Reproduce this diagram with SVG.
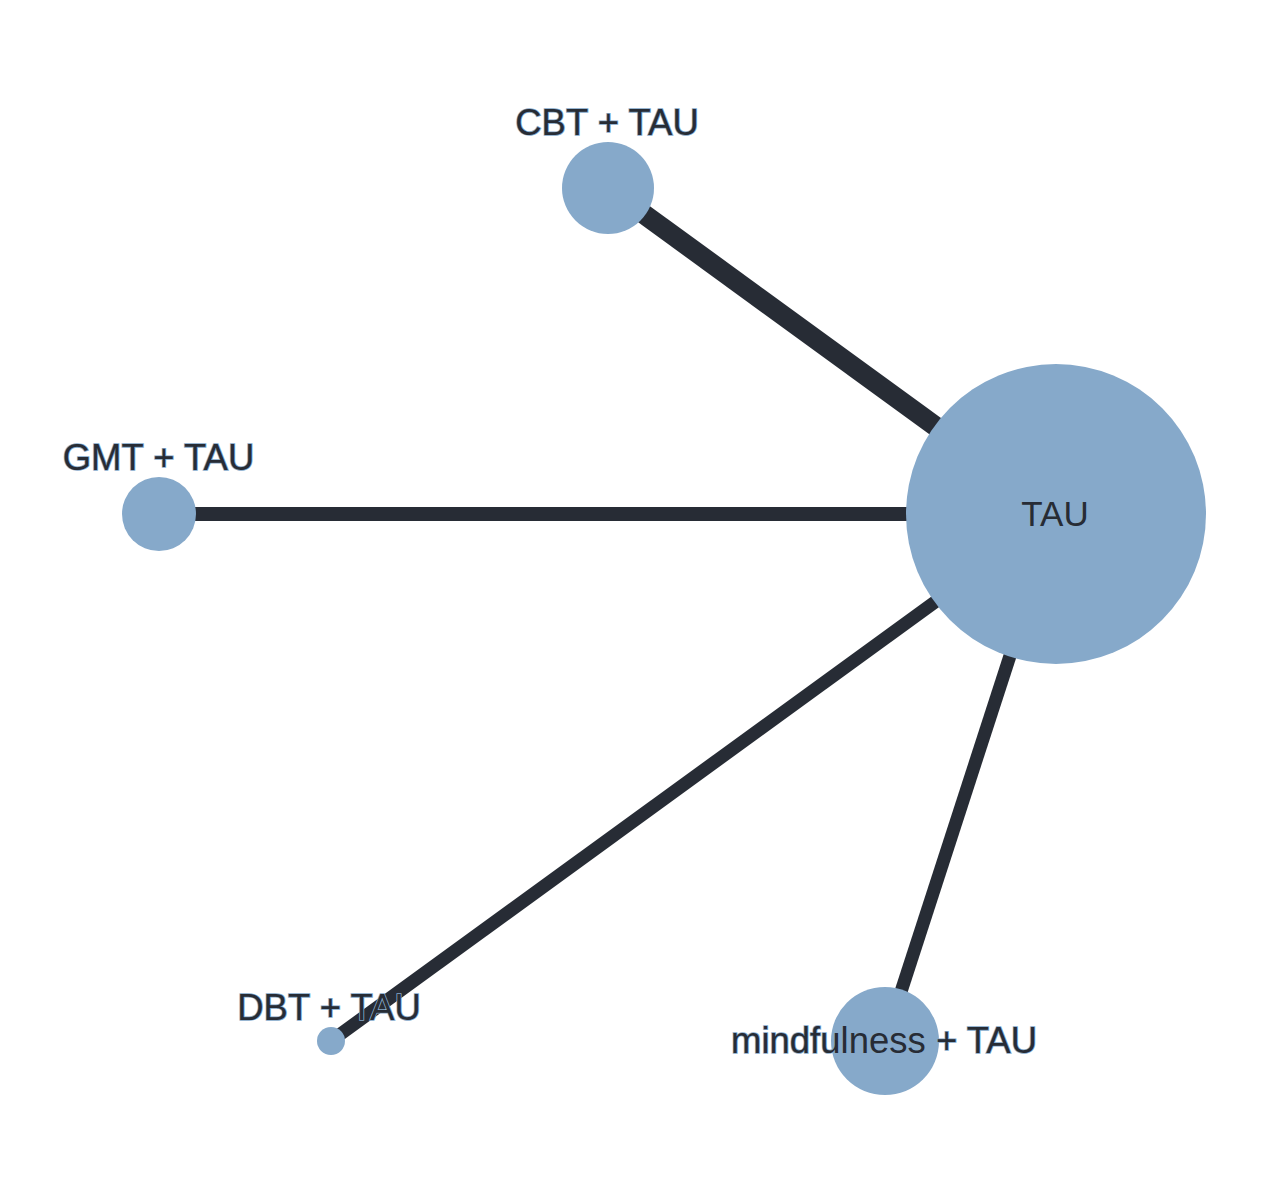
<svg xmlns="http://www.w3.org/2000/svg" width="1269" height="1200" viewBox="0 0 1269 1200">
<style>
.edge{stroke:#272c35;stroke-linecap:butt;fill:none}
.node{fill:#86a9ca}
.lbl{font-family:"Liberation Sans",Arial,Helvetica,sans-serif;font-size:36.5px;fill:#272c35;stroke:#86a9ca;stroke-width:1.6;paint-order:stroke;text-anchor:middle}
.in{stroke:none;font-size:35px}
</style>
<rect width="1269" height="1200" fill="#ffffff"/>
<g id="edges">
<line class="edge" x1="608" y1="188" x2="1056" y2="514" stroke-width="20"/>
<line class="edge" x1="159" y1="514" x2="1056" y2="514" stroke-width="14"/>
<line class="edge" x1="331" y1="1041" x2="1056" y2="514" stroke-width="13"/>
<line class="edge" x1="885" y1="1041" x2="1056" y2="514" stroke-width="13"/>
</g>
<g id="node-tau">
<circle class="node" cx="1056" cy="514" r="150"/>
<text class="lbl in" x="1055" y="526">TAU</text>
</g>
<g id="node-cbt">
<circle class="node" cx="608" cy="188" r="46"/>
<text class="lbl" x="607" y="135">CBT + TAU</text>
</g>
<g id="node-gmt">
<circle class="node" cx="159" cy="514" r="37"/>
<text class="lbl" x="158.5" y="470">GMT + TAU</text>
</g>
<g id="node-dbt">
<circle class="node" cx="331" cy="1041" r="14"/>
<text class="lbl" x="329" y="1020">DBT + TAU</text>
</g>
<g id="node-mindfulness">
<circle class="node" cx="885" cy="1041" r="54"/>
<text class="lbl" x="884" y="1053">mindfulness + TAU</text>
</g>
</svg>
